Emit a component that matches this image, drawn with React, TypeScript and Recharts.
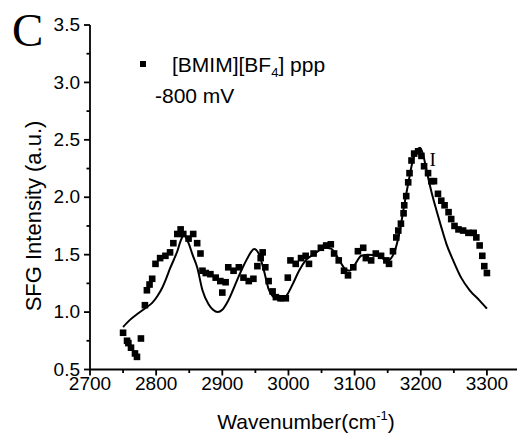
import { ComposedChart, Scatter, Line, XAxis, YAxis, ReferenceDot } from "recharts"

// measured points, [BMIM][BF4] ppp at -800 mV
const pointWavenumber = [
  2750, 2756, 2758, 2762, 2768, 2771, 2777, 2783, 2786, 2790, 2794, 2799, 2806, 2814,
  2821, 2826, 2832, 2837, 2841, 2849, 2856, 2862, 2867, 2870, 2875, 2882, 2890, 2897,
  2900, 2905, 2909, 2917, 2925, 2932, 2940, 2947, 2953, 2958, 2961, 2965, 2970, 2976,
  2981, 2988, 2996, 2999, 3003, 3011, 3019, 3026, 3031, 3038, 3049, 3057, 3064, 3069,
  3076, 3084, 3090, 3098, 3105, 3113, 3117, 3125, 3132, 3140, 3148, 3152, 3158, 3163,
  3166, 3170, 3174, 3175, 3178, 3181, 3183, 3186, 3190, 3196, 3201, 3205, 3211, 3216,
  3220, 3226, 3231, 3236, 3242, 3246, 3251, 3257, 3264, 3272, 3280, 3284, 3289, 3293,
  3296, 3300,
]
const pointIntensity = [
  0.82, 0.75, 0.73, 0.69, 0.64, 0.61, 0.77, 1.06, 1.19, 1.24, 1.29, 1.42, 1.47, 1.49,
  1.52, 1.6, 1.68, 1.72, 1.68, 1.64, 1.68, 1.6, 1.51, 1.36, 1.34, 1.33, 1.3, 1.27,
  1.17, 1.26, 1.39, 1.36, 1.39, 1.3, 1.27, 1.29, 1.4, 1.47, 1.52, 1.39, 1.27, 1.18,
  1.13, 1.12, 1.12, 1.3, 1.45, 1.42, 1.47, 1.49, 1.42, 1.51, 1.56, 1.58, 1.59, 1.51,
  1.45, 1.36, 1.32, 1.39, 1.53, 1.56, 1.47, 1.45, 1.51, 1.49, 1.45, 1.42, 1.53, 1.65,
  1.71, 1.77, 1.86, 1.93, 2.01, 2.13, 2.21, 2.32, 2.38, 2.4, 2.36, 2.27, 2.21, 2.14,
  2.14, 2.03, 1.97, 1.93, 1.87, 1.81, 1.75, 1.72, 1.71, 1.69, 1.69, 1.65, 1.58, 1.49,
  1.4, 1.34,
]

// fitted curve
const fitWavenumber = [
  2750, 2760, 2773, 2785, 2794, 2802, 2809, 2815, 2821, 2827, 2832, 2837, 2842, 2849,
  2855, 2862, 2870, 2879, 2886, 2893, 2900, 2908, 2916, 2924, 2931, 2938, 2943, 2948,
  2955, 2963, 2970, 2976, 2981, 2988, 2994, 2999, 3007, 3016, 3026, 3040, 3055, 3065,
  3075, 3085, 3092, 3100, 3110, 3120, 3135, 3150, 3160, 3168, 3175, 3182, 3188, 3194,
  3199, 3204, 3210, 3216, 3224, 3231, 3239, 3249, 3261, 3274, 3289, 3300,
]
const fitIntensity = [
  0.87, 0.93, 0.99, 1.04, 1.08, 1.14, 1.21, 1.29, 1.38, 1.46, 1.53, 1.62, 1.67, 1.6,
  1.5, 1.39, 1.19, 1.07, 1.02, 1.0, 1.02, 1.09, 1.19, 1.3, 1.39, 1.47, 1.52, 1.55,
  1.51, 1.36, 1.2, 1.14, 1.12, 1.1, 1.12, 1.16, 1.25, 1.36, 1.45, 1.51, 1.56, 1.55,
  1.47, 1.38, 1.36, 1.41, 1.49, 1.5, 1.49, 1.45, 1.52, 1.7, 1.93, 2.15, 2.32, 2.41,
  2.43, 2.36, 2.2, 2.05, 1.88, 1.74, 1.59, 1.45, 1.3, 1.19, 1.1, 1.03,
]

const xTicks = [
  2700, 2750, 2800, 2850, 2900, 2950, 3000, 3050, 3100, 3150, 3200, 3250, 3300, 3350,
]
const yTicks = [0.5, 0.75, 1, 1.25, 1.5, 1.75, 2, 2.25, 2.5, 2.75, 3, 3.25, 3.5]

const points = pointWavenumber.map((x, i) => ({ x, y: pointIntensity[i] }))
const fit = fitWavenumber.map((x, i) => ({ x, y: fitIntensity[i] }))

const FONT = "'Liberation Sans', Arial, sans-serif"

function XTick({ x, y, payload }: any) {
  const major = payload.value % 100 === 0
  return (
    <g>
      <line x1={x} y1={y} x2={x} y2={y + (major ? 6 : 3.5)} stroke="#000" strokeWidth={1.8} />
      {major && (
        <text x={x} y={y + 20} textAnchor="middle" fontSize={19} fontFamily={FONT} fill="#000">
          {payload.value}
        </text>
      )}
    </g>
  )
}

function YTick({ x, y, payload }: any) {
  const major = Math.round(payload.value * 100) % 50 === 0
  return (
    <g>
      <line x1={x} y1={y} x2={x - (major ? 6 : 3.5)} y2={y} stroke="#000" strokeWidth={1.8} />
      {major && (
        <text x={x - 10} y={y + 6.2} textAnchor="end" fontSize={19} fontFamily={FONT} fill="#000">
          {payload.value.toFixed(1)}
        </text>
      )}
    </g>
  )
}

function Square({ cx, cy }: any) {
  return <rect x={cx - 3.3} y={cy - 3.3} width={6.6} height={6.6} fill="#000" />
}

export default function App() {
  return (
    <div
      style={{
        position: "absolute",
        left: 0,
        top: 0,
        width: 517,
        height: 433,
        overflow: "hidden",
        background: "#fff",
      }}
    >
      <ComposedChart
        width={520}
        height={433}
        margin={{ top: 25, right: 0, left: 0, bottom: 0 }}
      >
        <XAxis
          type="number"
          dataKey="x"
          domain={[2700, 3350]}
          ticks={xTicks}
          interval={0}
          tickSize={0}
          tickMargin={0}
          tickLine={false}
          tick={<XTick />}
          height={63.5}
          axisLine={{ stroke: "#000", strokeWidth: 1.8 }}
          allowDataOverflow
        />
        <YAxis
          type="number"
          dataKey="y"
          domain={[0.5, 3.5]}
          ticks={yTicks}
          interval={0}
          tickSize={0}
          tickMargin={0}
          tickLine={false}
          tick={<YTick />}
          width={90}
          axisLine={{ stroke: "#000", strokeWidth: 1.8 }}
          allowDataOverflow
        />
        <Line
          data={fit}
          dataKey="y"
          type="monotone"
          stroke="#000"
          strokeWidth={2}
          dot={false}
          activeDot={false}
          isAnimationActive={false}
        />
        <Scatter data={points} dataKey="y" shape={<Square />} isAnimationActive={false} />
        <ReferenceDot
          x={3218}
          y={2.33}
          r={0}
          shape={(p: any) => (
            <text
              x={p.cx}
              y={p.cy + 7}
              textAnchor="middle"
              fontSize={19}
              fontFamily="'Liberation Serif', 'Times New Roman', serif"
              fill="#000"
            >
              I
            </text>
          )}
        />
      </ComposedChart>
      <svg
        width={517}
        height={433}
        style={{ position: "absolute", left: 0, top: 0, pointerEvents: "none" }}
      >
        <text x={12} y={46} fontSize={47} fontFamily="'Liberation Serif', 'Times New Roman', serif">
          C
        </text>
        <rect x={140} y={61} width={6} height={6} fill="#000" />
        <text x={172} y={72} fontSize={21} fontFamily={FONT}>
          [BMIM][BF
          <tspan fontSize={13} dy={5}>4</tspan>
          <tspan dy={-5}>] ppp</tspan>
        </text>
        <text x={155} y={103} fontSize={21} fontFamily={FONT}>
          -800 mV
        </text>
        <text x={306} y={429} textAnchor="middle" fontSize={21} fontFamily={FONT}>
          Wavenumber(cm
          <tspan fontSize={13} dy={-9}>-1</tspan>
          <tspan dy={9}>)</tspan>
        </text>
        <text
          x={41}
          y={216}
          textAnchor="middle"
          fontSize={22}
          fontFamily={FONT}
          transform="rotate(-90 41 216)"
        >
          SFG Intensity (a.u.)
        </text>
      </svg>
    </div>
  )
}
